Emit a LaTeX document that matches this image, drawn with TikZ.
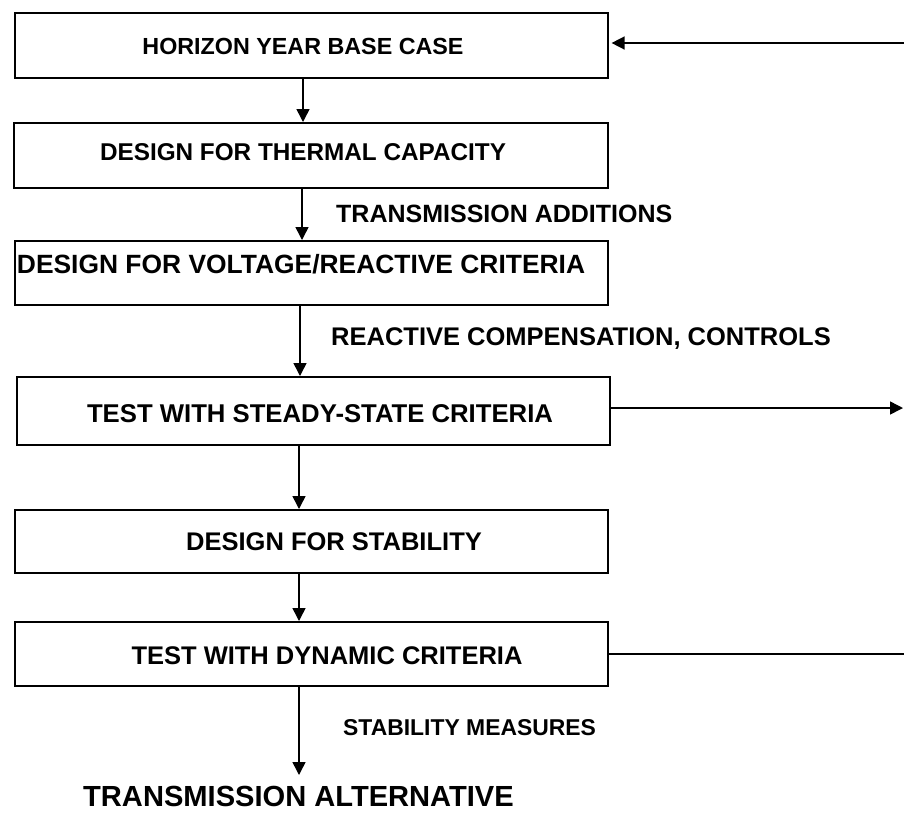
\documentclass[tikz,border=0pt]{standalone}
\usepackage{fontspec}
\setmainfont{Liberation Sans}
\usetikzlibrary{arrows.meta}

\begin{document}
\begin{tikzpicture}[x=1pt,y=-1pt,
  box/.style={draw,line width=1.6pt,minimum width=593pt,inner sep=0pt,anchor=north west},
  lbl/.style={inner sep=0pt,anchor=base,font=\fontsize{#1}{#1}\selectfont\bfseries},
  wlbl/.style={lbl=#1,anchor=base west},
  arr/.style={line width=1.5pt,-{Triangle[length=13pt,width=13pt]}},
  ln/.style={line width=1.5pt}]

% canvas
\useasboundingbox (0,0) rectangle (904,812);

% process boxes
\node[box,minimum height=65pt] (b1) at (14,12)  {};
\node[box,minimum height=65pt,minimum width=594pt] (b2) at (13,122) {};
\node[box,minimum height=64pt] (b3) at (14,240) {};
\node[box,minimum height=68pt] (b4) at (16,376) {};
\node[box,minimum height=63pt] (b5) at (14,509) {};
\node[box,minimum height=64pt] (b6) at (14,621) {};

% box captions (placed on their baselines)
\node[lbl=23.3] (t1) at (303,54.3)  {HORIZON YEAR BASE CASE};
\node[lbl=24.3] (t2) at (303,160.7) {DESIGN FOR THERMAL CAPACITY};
\node[lbl=26.4] (t3) at (301,273.5) {DESIGN FOR VOLTAGE/REACTIVE CRITERIA};
\node[lbl=25.7] (t4) at (320,422.2) {TEST WITH STEADY-STATE CRITERIA};
\node[lbl=25.5] (t5) at (334,550.1) {DESIGN FOR STABILITY};
\node[lbl=25.5] (t6) at (327,664.1) {TEST WITH DYNAMIC CRITERIA};

% connector captions
\node[wlbl=25]   (a1) at (336,222)   {TRANSMISSION ADDITIONS};
\node[wlbl=25.5] (a2) at (331,345.1) {REACTIVE COMPENSATION, CONTROLS};
\node[wlbl=22.9] (a3) at (343,735.2) {STABILITY MEASURES};

% final result
\node[wlbl=29.1] (res) at (83,806.5) {TRANSMISSION ALTERNATIVE};

% free ends on the right margin
\coordinate (fb) at (904,43);
\coordinate (ss) at (903,408);
\coordinate (dy) at (904,654);
\coordinate (r1) at (299,775);

% main flow
\draw[arr] (b1.south -| 303,0) -- (b2.north -| 303,0);
\draw[arr] (b2.south -| 302,0) -- (b3.north -| 302,0);
\draw[arr] (b3.south -| 300,0) -- (b4.north -| 300,0);
\draw[arr] (b4.south -| 299,0) -- (b5.north -| 299,0);
\draw[arr] (b5.south -| 299,0) -- (b6.north -| 299,0);
\draw[arr] (b6.south -| r1) -- (r1);

% side connectors
\draw[arr,shorten >=3pt] (fb) -- (fb -| b1.east);
\draw[arr] (ss -| b4.east) -- (ss);
\draw[ln] (dy -| b6.east) -- (dy);
\end{tikzpicture}
\end{document}
